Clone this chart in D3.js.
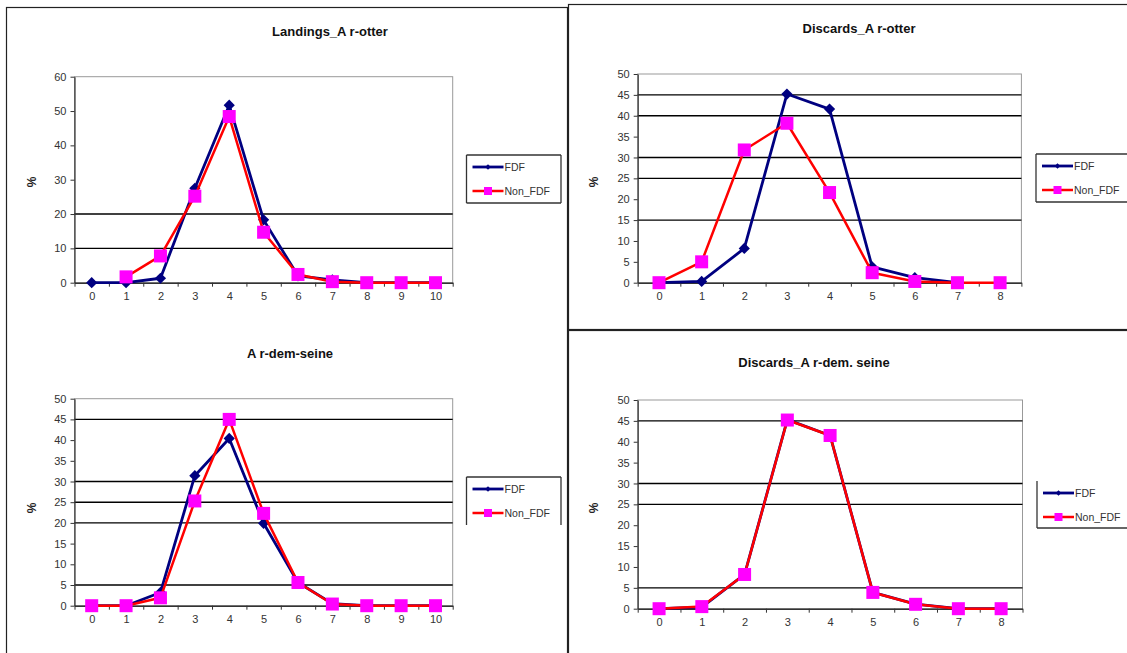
<!DOCTYPE html>
<html><head><meta charset="utf-8">
<script src="https://cdn.jsdelivr.net/npm/d3@7/dist/d3.min.js"></script>
<style>
body{margin:0;background:#fff;}
text{font-family:"Liberation Sans",Arial,sans-serif;}
</style></head>
<body><svg id="c" width="1127" height="653"></svg>
<script>
// ---- data ----
const catsLong = [0,1,2,3,4,5,6,7,8,9,10];
const catsShort = [0,1,2,3,4,5,6,7,8];
const seriesNames = ["FDF","Non_FDF"];

const landingsOtterFDF    = [0, 0, 1.3, 27.5, 51.7, 18.3, 2, 0.8, 0, 0, 0];
const landingsOtterNonFDF = [null, 1.7, 7.8, 25.2, 48.4, 14.7, 2.4, 0.3, 0, 0, 0];

const discardsOtterFDF    = [0, 0.3, 8.2, 45.2, 41.6, 3.8, 1.2, 0, null];
const discardsOtterNonFDF = [0, 5, 31.8, 38.2, 21.6, 2.4, 0.3, 0, 0];

const demSeineFDF    = [0, 0, 3.2, 31.4, 40.4, 19.9, 5.6, 0.5, 0, 0, 0];
const demSeineNonFDF = [0, 0, 1.9, 25.3, 45, 22.3, 5.6, 0.4, 0, 0, 0];

const discardsSeineFDF    = [0, 0.4, 8.2, 45.3, 41.5, 3.9, 1.1, 0, 0];
const discardsSeineNonFDF = [0, 0.5, 8.2, 45.2, 41.5, 3.9, 1.05, 0, 0];

const titles = ["Landings_A r-otter","Discards_A r-otter","A r-dem-seine","Discards_A r-dem. seine"];
const yTicks60 = [0,10,20,30,40,50,60];
const yTicks50 = [0,5,10,15,20,25,30,35,40,45,50];
// gridlines that are visible in the picture
const grid1 = [10,20];
const grid2 = [15,25,30,40,45];
const grid3 = [5,20,25,30,45];
const grid4 = [5,25,30,45];

// ---- layout ----
const panels = [
  {title:titles[0], cats:catsLong, fdf:landingsOtterFDF, non:landingsOtterNonFDF, ymax:60, yticks:yTicks60, grid:grid1,
   L:74.5,R:452.7,T:76.7,B:282.7, tx:330,ty:36, px:36,py:182, lg:{x:466.5,y:155,w:94.5,h:48,sides:"tlrb"}},
  {title:titles[1], cats:catsShort, fdf:discardsOtterFDF, non:discardsOtterNonFDF, ymax:50, yticks:yTicks50, grid:grid2,
   L:637.7,R:1021.4,T:74,B:282.7, tx:859,ty:33, px:598,py:182, lg:{x:1036,y:154,w:94,h:48,sides:"tlrb"}},
  {title:titles[2], cats:catsLong, fdf:demSeineFDF, non:demSeineNonFDF, ymax:50, yticks:yTicks50, grid:grid3,
   L:74.5,R:452.7,T:398.7,B:605.7, tx:290,ty:358, px:36,py:508, lg:{x:466.5,y:477,w:94.5,h:48,sides:"tlr"}},
  {title:titles[3], cats:catsShort, fdf:discardsSeineFDF, non:discardsSeineNonFDF, ymax:50, yticks:yTicks50, grid:grid4,
   L:637.7,R:1022.5,T:400,B:608.7, tx:814,ty:367, px:598,py:508, lg:{x:1037,y:481,w:94,h:47,sides:"lrb"}}
];

const svg = d3.select("#c");
const navy = "#000080", red = "#ff0000", magenta = "#ff00ff";

// frames
svg.append("rect").attr("x",6.5).attr("y",7.5).attr("width",561).attr("height",700)
  .attr("fill","none").attr("stroke","#222").attr("stroke-width",1.2);
svg.append("rect").attr("x",568.5).attr("y",4.5).attr("width",600).attr("height",325)
  .attr("fill","#fff").attr("stroke","#222").attr("stroke-width",1.2);
svg.append("rect").attr("x",568.5).attr("y",330.5).attr("width",600).attr("height",400)
  .attr("fill","#fff").attr("stroke","#222").attr("stroke-width",1.2);

panels.forEach(p => {
  const g = svg.append("g");
  const n = p.cats.length;
  const x = d3.scaleLinear().domain([-0.5, n-0.5]).range([p.L, p.R]);
  const y = d3.scaleLinear().domain([0, p.ymax]).range([p.B, p.T]);

  // plot area border (gray)
  g.append("rect").attr("x",p.L).attr("y",p.T).attr("width",p.R-p.L).attr("height",p.B-p.T)
    .attr("fill","none").attr("stroke","#999").attr("stroke-width",1);

  // gridlines
  g.selectAll(".grid").data(p.grid).join("line")
    .attr("x1",p.L).attr("x2",p.R).attr("y1",d=>y(d)).attr("y2",d=>y(d))
    .attr("stroke","#000").attr("stroke-width",1.4);

  // y axis
  const ya = g.append("g").attr("transform",`translate(${p.L},0)`)
    .call(d3.axisLeft(y).tickValues(p.yticks).tickSize(4).tickSizeOuter(0).tickPadding(4));
  ya.select(".domain").attr("stroke","#333").attr("stroke-width",1.2);
  ya.selectAll(".tick line").attr("stroke","#333");
  ya.selectAll("text").attr("font-size",11).attr("fill","#333");

  // x axis: ticks at category edges
  const edges = d3.range(n+1).map(i => i-0.5);
  const xa = g.append("g").attr("transform",`translate(0,${p.B})`)
    .call(d3.axisBottom(x).tickValues(edges).tickSize(4).tickSizeOuter(0).tickFormat(""));
  xa.select(".domain").attr("stroke","#333").attr("stroke-width",1.4);
  xa.selectAll(".tick line").attr("stroke","#333");
  const xl = g.append("g").attr("transform",`translate(0,${p.B})`)
    .call(d3.axisBottom(x).tickValues(p.cats.map((c,i)=>i)).tickFormat(i=>p.cats[i]).tickSize(0).tickPadding(10));
  xl.select(".domain").remove();
  xl.selectAll("text").attr("font-size",11).attr("fill","#333");

  // title
  g.append("text").attr("x",p.tx).attr("y",p.ty).attr("text-anchor","middle")
    .attr("font-size",13).attr("font-weight","bold").attr("fill","#111").text(p.title);
  // % label
  g.append("text").attr("transform",`translate(${p.px},${p.py}) rotate(-90)`).attr("text-anchor","middle")
    .attr("font-size",12).attr("font-weight","bold").attr("fill","#222").text("%");

  const line = d3.line().defined(d=>d.v!=null).x(d=>x(d.i)).y(d=>y(d.v));
  const fd = p.fdf.map((v,i)=>({i,v}));
  const nd = p.non.map((v,i)=>({i,v}));

  // FDF
  g.append("path").datum(fd).attr("d",line).attr("fill","none").attr("stroke",navy).attr("stroke-width",2.8)
    .attr("stroke-linejoin","round");
  g.selectAll(".dia").data(fd.filter(d=>d.v!=null)).join("path")
    .attr("d",d3.symbol(d3.symbolDiamond2 || d3.symbolDiamond, 80))
    .attr("transform",d=>`translate(${x(d.i)},${y(d.v)})`).attr("fill",navy);
  // Non_FDF
  g.append("path").datum(nd).attr("d",line).attr("fill","none").attr("stroke",red).attr("stroke-width",2.5)
    .attr("stroke-linejoin","round");
  g.selectAll(".sq").data(nd.filter(d=>d.v!=null)).join("rect")
    .attr("x",d=>x(d.i)-6.5).attr("y",d=>y(d.v)-6.5).attr("width",13).attr("height",13).attr("fill",magenta);

  // legend
  const lg = p.lg;
  const lgG = g.append("g");
  lgG.append("rect").attr("x",lg.x).attr("y",lg.y).attr("width",lg.w).attr("height",lg.h).attr("fill","#fff").attr("stroke","none");
  const sides = {t:[lg.x,lg.y,lg.x+lg.w,lg.y], b:[lg.x,lg.y+lg.h,lg.x+lg.w,lg.y+lg.h],
                 l:[lg.x,lg.y,lg.x,lg.y+lg.h], r:[lg.x+lg.w,lg.y,lg.x+lg.w,lg.y+lg.h]};
  lg.sides.split("").forEach(s=>{
    const c = sides[s];
    lgG.append("line").attr("x1",c[0]).attr("y1",c[1]).attr("x2",c[2]).attr("y2",c[3])
      .attr("stroke","#333").attr("stroke-width",1.3);
  });
  seriesNames.forEach((name,k)=>{
    const yy = lg.y + 12 + k*24;
    const x0 = lg.x + 6, x1 = lg.x + 37;
    lgG.append("line").attr("x1",x0).attr("x2",x1).attr("y1",yy).attr("y2",yy)
      .attr("stroke", k===0?navy:red).attr("stroke-width",k===0?2.8:2.5);
    if(k===0){
      lgG.append("path").attr("d",d3.symbol(d3.symbolDiamond2 || d3.symbolDiamond,20))
        .attr("transform",`translate(${(x0+x1)/2},${yy})`).attr("fill",navy);
    } else {
      lgG.append("rect").attr("x",(x0+x1)/2-4).attr("y",yy-4).attr("width",8).attr("height",8).attr("fill",magenta);
    }
    lgG.append("text").attr("x",x1+1).attr("y",yy+4).attr("font-size",10.5).attr("fill","#333").text(name);
  });
});
</script>
</body></html>
